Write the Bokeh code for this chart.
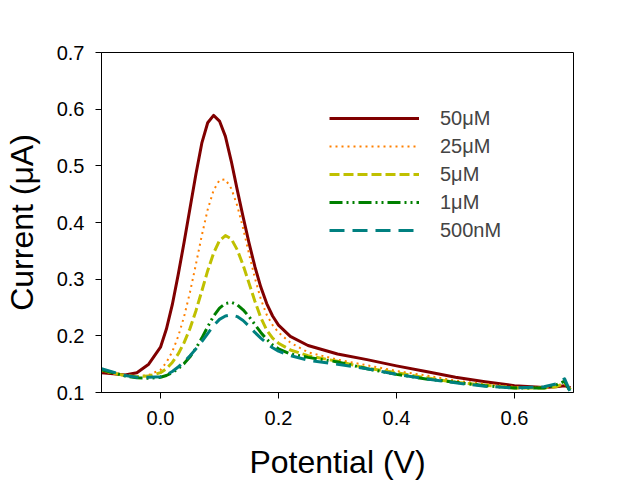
from bokeh.plotting import figure
from bokeh.models import Range1d, FixedTicker, PrintfTickFormatter, Legend, LegendItem
from bokeh.embed import file_html
from bokeh.resources import INLINE

potential = [-0.1, -0.08, -0.06, -0.04, -0.02,
             0.0, 0.01, 0.02, 0.03, 0.04, 0.05, 0.06, 0.07, 0.08, 0.09, 0.10,
             0.11, 0.12, 0.13, 0.14, 0.15, 0.16, 0.17, 0.18, 0.19, 0.20,
             0.22, 0.25, 0.30, 0.35, 0.40, 0.45, 0.50, 0.55, 0.60, 0.65,
             0.67, 0.685, 0.695]

c_50uM = [0.135, 0.133, 0.131, 0.135, 0.15,
          0.18, 0.212, 0.255, 0.308, 0.365, 0.425, 0.485, 0.54, 0.576, 0.589, 0.579,
          0.552, 0.508, 0.458, 0.41, 0.364, 0.322, 0.286, 0.257, 0.235, 0.219,
          0.199, 0.183, 0.168, 0.158, 0.147, 0.137, 0.127, 0.119, 0.112, 0.109,
          0.11, 0.112, 0.108]

c_25uM = [0.138, 0.133, 0.130, 0.128, 0.131,
          0.14, 0.153, 0.172, 0.199, 0.234, 0.277, 0.326, 0.377, 0.423, 0.457, 0.475,
          0.476, 0.46, 0.43, 0.39, 0.345, 0.302, 0.265, 0.237, 0.219, 0.206,
          0.188, 0.171, 0.158, 0.148, 0.138, 0.13, 0.121, 0.115, 0.11, 0.108,
          0.11, 0.115, 0.105]

c_5uM = [0.14, 0.134, 0.13, 0.128, 0.129,
         0.135, 0.142, 0.153, 0.168, 0.188, 0.213, 0.244, 0.279, 0.315, 0.346, 0.368,
         0.377, 0.371, 0.352, 0.325, 0.293, 0.261, 0.232, 0.21, 0.196, 0.187,
         0.175, 0.165, 0.155, 0.143, 0.135, 0.126, 0.118, 0.113, 0.108, 0.108,
         0.11, 0.117, 0.105]

c_1uM = [0.14, 0.135, 0.129, 0.126, 0.125,
         0.127, 0.13, 0.135, 0.142, 0.151, 0.163, 0.178, 0.196, 0.216, 0.235, 0.249,
         0.257, 0.259, 0.255, 0.246, 0.234, 0.22, 0.206, 0.194, 0.184, 0.177,
         0.168, 0.162, 0.154, 0.142, 0.132, 0.124, 0.118, 0.112, 0.108, 0.108,
         0.113, 0.12, 0.1]

c_500nM = [0.142, 0.136, 0.13, 0.127, 0.127,
           0.128, 0.131, 0.137, 0.145, 0.154, 0.165, 0.177, 0.19, 0.204, 0.218, 0.229,
           0.235, 0.237, 0.234, 0.227, 0.217, 0.206, 0.196, 0.187, 0.179, 0.173,
           0.165, 0.157, 0.15, 0.142, 0.132, 0.124, 0.117, 0.111, 0.108, 0.11,
           0.115, 0.124, 0.1]

labels = ["50\u03bcM", "25\u03bcM", "5\u03bcM", "1\u03bcM", "500nM"]
series = [c_50uM, c_25uM, c_5uM, c_1uM, c_500nM]
colors = ["#800000", "#FF8000", "#C0C000", "#008000", "#008080"]
dashes = ["solid", "2 4", "10 4", "13 4 2 4 2 4", "15 8"]
widths = [3, 2, 3, 3, 3]

x_ticks = [0.0, 0.2, 0.4, 0.6]
y_ticks = [0.1, 0.2, 0.3, 0.4, 0.5, 0.6, 0.7]

FONT = "Liberation Sans"

p = figure(width=619, height=483, output_backend="svg", toolbar_location=None,
           x_range=Range1d(-0.1, 0.7), y_range=Range1d(0.1, 0.7),
           min_border_left=100, min_border_right=46, min_border_top=52, min_border_bottom=91)
p.grid.visible = False
p.outline_line_color = "black"
p.outline_line_width = 1

items = []
for lab, ys, col, dash, w in zip(labels, series, colors, dashes, widths):
    r = p.line(potential, ys, line_color=col, line_dash=dash, line_width=w,
               line_join="round")
    items.append(LegendItem(label=lab, renderers=[r]))

legend = Legend(items=items, location=(228, 148), orientation="vertical",
                glyph_width=90, glyph_height=28, label_height=28, spacing=0,
                padding=0, margin=0, label_standoff=21,
                label_text_font=FONT, label_text_font_size="20px",
                border_line_color=None, background_fill_alpha=0)
p.add_layout(legend, "center")

p.xaxis.ticker = FixedTicker(ticks=x_ticks)
p.yaxis.ticker = FixedTicker(ticks=y_ticks)
p.xaxis.formatter = PrintfTickFormatter(format="%.1f")
p.yaxis.formatter = PrintfTickFormatter(format="%.1f")
for ax in (p.xaxis, p.yaxis):
    ax.major_tick_out = 6
    ax.major_tick_in = 0
    ax.minor_tick_line_color = None
    ax.axis_line_color = "black"
    ax.major_tick_line_color = "black"
    ax.major_label_text_font = FONT
    ax.major_label_text_font_size = "20px"
    ax.major_label_text_color = "black"
    ax.axis_label_text_font = FONT
    ax.axis_label_text_font_size = "32px"
    ax.axis_label_text_font_style = "normal"
    ax.axis_label_text_color = "black"
p.xaxis.axis_label = "Potential (V)"
p.yaxis.axis_label = "Current (\u03bcA)"
p.xaxis.major_label_standoff = 12
p.yaxis.major_label_standoff = 11
p.xaxis.axis_label_standoff = 16
p.yaxis.axis_label_standoff = 14

open("out.html", "w").write(file_html(p, INLINE))
